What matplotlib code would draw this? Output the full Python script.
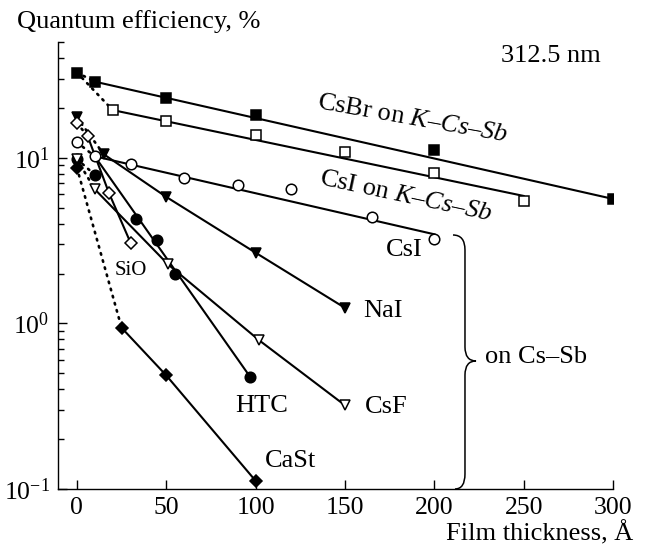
import numpy as np
import matplotlib
matplotlib.use('Agg')
import matplotlib.pyplot as plt
from matplotlib.path import Path
from matplotlib.patches import PathPatch

plt.rcParams['font.family'] = 'Liberation Serif'
plt.rcParams['mathtext.fontset'] = 'custom'
plt.rcParams['mathtext.rm'] = 'Liberation Serif'
plt.rcParams['mathtext.it'] = 'Liberation Serif:italic'

# film thickness (Angstrom) vs quantum efficiency (%) at 312.5 nm

# CsBr on K-Cs-Sb
csbr_x = [0, 10, 50, 100, 200, 300]
csbr_y = [32.7, 28.8, 23.0, 18.2, 11.1, 5.64]
csbr_fit_x = [10, 300]
csbr_fit_y = [28.8, 5.64]

# CsI on K-Cs-Sb
csik_x = [20, 50, 100, 150, 200, 250]
csik_y = [19.4, 16.6, 13.8, 10.9, 8.11, 5.46]
csik_fit_x = [20, 250]
csik_fit_y = [19.4, 5.88]

# films on Cs-Sb
csi_x = [0, 10, 30, 60, 90, 120, 165, 200]
csi_y = [12.4, 10.2, 9.2, 7.5, 6.85, 6.45, 4.41, 3.22]
csi_fit_x = [10, 200]
csi_fit_y = [10.2, 3.45]

nai_x = [0, 15, 50, 100, 150]
nai_y = [17.5, 10.5, 5.8, 2.67, 1.24]

sio_x = [0, 6, 18, 30]
sio_y = [16.2, 13.5, 6.1, 3.07]

htc_x = [0, 10, 33, 45, 55, 97]
htc_y = [9.8, 7.9, 4.25, 3.2, 1.98, 0.474]
htc_fit_x = [10, 97]
htc_fit_y = [10.2, 0.474]

csf_x = [0, 10, 51, 102, 150]
csf_y = [9.8, 6.45, 2.27, 0.79, 0.32]

cast_x = [0, 25, 50, 100]
cast_y = [8.7, 0.94, 0.485, 0.112]

fig = plt.figure(figsize=(6.45, 5.48), dpi=100)
ax = fig.add_axes([0.0899, 0.1077, 0.8605, 0.8157])
ax.set_yscale('log')
ax.set_xlim(-10.6, 300)
ax.set_ylim(0.1, 50)

lw = 1.5
dot = dict(color='black', lw=1.9, ls=(0, (0.6, 2.2)), dash_capstyle='round')
sol = dict(color='black', lw=lw)

# dotted links from the bare photocathode to the first coated point
ax.plot(csbr_x[:2], csbr_y[:2], **dot)
ax.plot([csbr_x[0], csik_x[0]], [csbr_y[0], csik_y[0]], **dot)
for xs, ys in [(nai_x, nai_y), (sio_x, sio_y), (csi_x, csi_y),
               (htc_x, htc_y), (csf_x, csf_y), (cast_x, cast_y)]:
    ax.plot(xs[:2], ys[:2], **dot)

# solid lines
ax.plot(csbr_fit_x, csbr_fit_y, **sol)
ax.plot(csik_fit_x, csik_fit_y, **sol)
ax.plot(csi_fit_x, csi_fit_y, **sol)
ax.plot(nai_x[1:], nai_y[1:], **sol)
ax.plot(sio_x[1:], sio_y[1:], **sol)
ax.plot(htc_fit_x, htc_fit_y, **sol)
ax.plot(csf_x[1:], csf_y[1:], **sol)
ax.plot(cast_x[1:], cast_y[1:], **sol)

# markers
mk = dict(ls='none', mec='black', mew=1.1, zorder=5)
ax.plot(csbr_x, csbr_y, marker='s', ms=7, mfc='black', **mk)
ax.plot(csik_x, csik_y, marker='s', ms=7, mfc='white', **mk)
ax.plot(csi_x, csi_y, marker='o', ms=7.6, mfc='white', **mk)
ax.plot(nai_x, nai_y, marker='v', ms=7.8, mfc='black', **mk)
ax.plot(sio_x, sio_y, marker='D', ms=6.4, mfc='white', **mk)
ax.plot(htc_x, htc_y, marker='o', ms=7.6, mfc='black', **mk)
ax.plot(csf_x, csf_y, marker='v', ms=7.8, mfc='white', **mk)
ax.plot(cast_x, cast_y, marker='D', ms=6.4, mfc='black', **mk)

# axes styling
for s in ['top', 'right']:
    ax.spines[s].set_visible(False)
for s in ['left', 'bottom']:
    ax.spines[s].set_linewidth(1.0)
ax.set_xticks([0, 50, 100, 150, 200, 250, 300])
ax.tick_params(axis='both', which='major', direction='in', length=6.5,
               width=1.0, labelsize=18.5, pad=6)
ax.tick_params(axis='y', which='minor', direction='in', length=4.5, width=1.0)
ax.tick_params(axis='x', which='minor', bottom=False)

fs = 19
ax.text(265, 41, '312.5 nm', fontsize=fs, ha='center', va='center')
ax.text(188, 17.1, r'CsBr on $K$–$Cs$–$Sb$', fontsize=fs, ha='center',
        va='center', rotation=-10, rotation_mode='anchor')
ax.text(184, 5.85, r'CsI on $K$–$Cs$–$Sb$', fontsize=fs, ha='center',
        va='center', rotation=-12, rotation_mode='anchor')
ax.text(183, 2.76, 'CsI', fontsize=fs, ha='center', va='center')
ax.text(171, 1.18, 'NaI', fontsize=fs, ha='center', va='center')
ax.text(173, 0.311, 'CsF', fontsize=fs, ha='center', va='center')
ax.text(257, 0.623, 'on Cs–Sb', fontsize=fs, ha='center', va='center')
ax.text(103.6, 0.319, 'HTC', fontsize=fs, ha='center', va='center')
ax.text(119.3, 0.1466, 'CaSt', fontsize=fs, ha='center', va='center')
ax.text(30.2, 2.09, 'SiO', fontsize=15, ha='center', va='center')

# curly brace grouping the Cs-Sb films
verts = [(0.7117, 0.5682), (0.7333, 0.5682), (0.7333, 0.5347),
         (0.7333, 0.3177), (0.7333, 0.2864), (0.7532, 0.2864),
         (0.7333, 0.2864), (0.7333, 0.2550),
         (0.7333, 0.0336), (0.7333, 0.0), (0.7153, 0.0)]
codes = [Path.MOVETO, Path.CURVE3, Path.CURVE3,
         Path.LINETO, Path.CURVE3, Path.CURVE3,
         Path.CURVE3, Path.CURVE3,
         Path.LINETO, Path.CURVE3, Path.CURVE3]
ax.add_patch(PathPatch(Path(verts, codes), transform=ax.transAxes,
                       fc='none', ec='black', lw=1.1, clip_on=False))

fig.text(17 / 645, 1 - 22 / 548, 'Quantum efficiency, %', fontsize=fs,
         ha='left', va='center')
fig.text(633 / 645, 1 - 533 / 548, 'Film thickness, Å', fontsize=fs,
         ha='right', va='center')

fig.savefig('out.png', dpi=100)
